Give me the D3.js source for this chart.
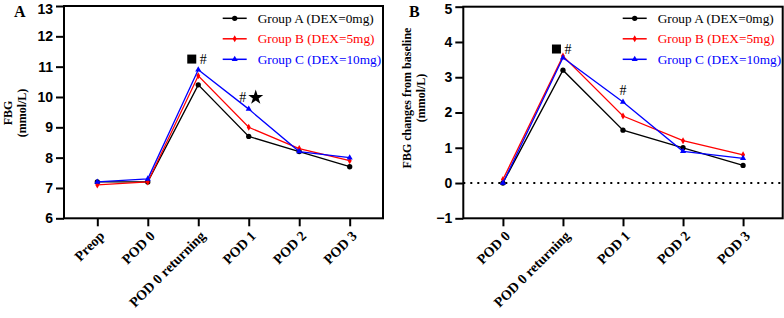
<!DOCTYPE html>
<html><head><meta charset="utf-8">
<script src="https://cdn.jsdelivr.net/npm/d3@7"></script>
<style>
html,body{margin:0;padding:0;background:#fff;}
svg{display:block;}
</style></head>
<body>
<svg id="c" width="784" height="318"></svg>
<script>
// ---------- data ----------
const catsA = ["Preop", "POD 0", "POD 0 returning", "POD 1", "POD 2", "POD 3"];
const fbgGroupA = [7.2, 7.2, 10.4, 8.7, 8.2, 7.7];
const fbgGroupB = [7.1, 7.2, 10.7, 9.0, 8.3, 7.9];
const fbgGroupC = [7.2, 7.3, 10.9, 9.6, 8.2, 8.0];
const ticksA = [6, 7, 8, 9, 10, 11, 12, 13];

const catsB = ["POD 0", "POD 0 returning", "POD 1", "POD 2", "POD 3"];
const chgGroupA = [0.0, 3.2, 1.5, 1.0, 0.5];
const chgGroupB = [0.1, 3.6, 1.9, 1.2, 0.8];
const chgGroupC = [0.0, 3.55, 2.3, 0.9, 0.7];
const ticksB = [-1, 0, 1, 2, 3, 4, 5];

const seriesNames = ["Group A (DEX=0mg)", "Group B (DEX=5mg)", "Group C (DEX=10mg)"];
const seriesColors = ["#000000", "#ff0000", "#0000ff"];
const seriesShapes = ["circle", "diamond", "triangle"];

// annotations: [category, value, symbol]
const annotA = [["POD 0 returning", 11.25, "square"], ["POD 0 returning", 11.25, "#"],
                ["POD 1", 10.0, "#"], ["POD 1", 10.0, "star"]];
const annotB = [["POD 0 returning", 3.8, "square"], ["POD 0 returning", 3.8, "#"],
                ["POD 1", 2.64, "#"]];

const svg = d3.select("#c");
const serif = "'Liberation Serif','Times New Roman',serif";
const sans = "'Liberation Sans',Arial,sans-serif";

function drawPanel(o) {
  const g = svg.append("g");
  const x = d3.scalePoint().domain(o.cats).range([o.x0, o.x1]).padding(0.66);
  const y = d3.scaleLinear().domain(o.domain).range([o.yb, o.yt]);

  // frame
  g.append("rect").attr("x", o.x0).attr("y", o.yt).attr("width", o.x1 - o.x0).attr("height", o.yb - o.yt)
    .attr("fill", "none").attr("stroke", "#000").attr("stroke-width", 2);

  // y axis
  const ya = g.append("g").attr("transform", `translate(${o.x0},0)`)
    .call(d3.axisLeft(y).tickValues(o.ticks).tickSize(8).tickPadding(3).tickFormat(d3.format("d")));
  ya.select(".domain").remove();
  ya.selectAll("line").attr("stroke", "#000").attr("stroke-width", 2);
  ya.selectAll("text").attr("font-family", sans).attr("font-weight", "bold").attr("font-size", 14).attr("fill", "#000");
  ya.selectAll("text").filter(d => d === o.domain[1]).attr("dy", "0.5em");

  // x axis
  const xa = g.append("g").attr("transform", `translate(0,${o.yb})`)
    .call(d3.axisBottom(x).tickSize(8).tickSizeOuter(0));
  xa.select(".domain").remove();
  xa.selectAll("line").attr("stroke", "#000").attr("stroke-width", 2);
  xa.selectAll("text").attr("font-family", serif).attr("font-weight", "bold").attr("font-size", 14)
    .attr("fill", "#000").attr("text-anchor", "end")
    .attr("transform", "translate(4,15) rotate(-45)").attr("dy", "0.35em").attr("y", 0).attr("x", 0);

  // zero line
  if (o.zero) {
    g.append("line").attr("x1", o.x0).attr("x2", o.x1).attr("y1", y(0)).attr("y2", y(0))
      .attr("stroke", "#000").attr("stroke-width", 2).attr("stroke-dasharray", "2,5");
  }

  // series
  const line = d3.line().x(d => x(d[0])).y(d => y(d[1]));
  o.series.forEach((vals, i) => {
    const pts = o.cats.map((c, j) => [c, vals[j]]);
    g.append("path").datum(pts).attr("d", line).attr("fill", "none")
      .attr("stroke", seriesColors[i]).attr("stroke-width", 1.3);
    pts.forEach(p => drawMarker(g, x(p[0]), y(p[1]), i));
  });

  // legend
  seriesNames.forEach((name, i) => {
    const ly = o.legY + i * 20.5;
    g.append("line").attr("x1", o.legX).attr("x2", o.legX + 24).attr("y1", ly).attr("y2", ly)
      .attr("stroke", seriesColors[i]).attr("stroke-width", 1.5);
    drawMarker(g, o.legX + 12, ly, i);
    g.append("text").attr("x", o.legX + 35).attr("y", ly).attr("dy", "0.35em")
      .attr("font-family", serif).attr("font-size", 13.3).attr("fill", seriesColors[i]).text(name);
  });

  // annotations
  o.annot.forEach(a => {
    const cx = x(a[0]), cy = y(a[1]);
    if (a[2] === "square") {
      g.append("rect").attr("x", cx - 11).attr("y", cy - 4.5).attr("width", 9).attr("height", 9).attr("fill", "#000");
    } else if (a[2] === "#") {
      const dx = a[0] === "POD 1" && o.hashLeft ? -6 : (a[0] === "POD 1" ? 0 : 5);
      g.append("text").attr("x", cx + dx).attr("y", cy).attr("dy", "0.35em").attr("text-anchor", "middle")
        .attr("font-family", serif).attr("font-size", 14).attr("fill", "#000").text("#");
    } else if (a[2] === "star") {
      const star = d3.symbol().type(d3.symbolStar).size(70);
      g.append("path").attr("d", star()).attr("transform", `translate(${cx + 7},${cy + 0.5})`).attr("fill", "#000");
    }
  });

  // y title
  const t = g.append("text").attr("transform", `translate(${o.titleX},${o.titleY}) rotate(-90)`)
    .attr("text-anchor", "middle").attr("font-family", serif).attr("font-weight", "bold")
    .attr("font-size", 12).attr("fill", "#000");
  t.append("tspan").attr("x", 0).attr("dy", 0).text(o.title[0]);
  t.append("tspan").attr("x", 0).attr("dy", "1.15em").text(o.title[1]);

  // panel letter
  g.append("text").attr("x", o.letterX).attr("y", 17).attr("font-family", serif).attr("font-weight", "bold")
    .attr("font-size", 16).attr("fill", "#000").text(o.letter);
}

function drawMarker(g, cx, cy, i) {
  const shape = seriesShapes[i];
  let sym;
  if (shape === "circle") sym = d3.symbol().type(d3.symbolCircle).size(22);
  else if (shape === "diamond") sym = d3.symbol().type(d3.symbolDiamond).size(14);
  else sym = d3.symbol().type(d3.symbolTriangle).size(16);
  g.append("path").attr("d", sym()).attr("transform", `translate(${cx},${cy})`).attr("fill", seriesColors[i]);
}

drawPanel({
  cats: catsA, series: [fbgGroupA, fbgGroupB, fbgGroupC], domain: [6, 13], ticks: ticksA,
  x0: 64, x1: 383, yt: 6, yb: 218.3, zero: false, legX: 222.7, legY: 18.3,
  annot: annotA, hashLeft: true, title: ["FBG", "(mmol/L)"], titleX: 12, titleY: 113,
  letter: "A", letterX: 14
});
drawPanel({
  cats: catsB, series: [chgGroupA, chgGroupB, chgGroupC], domain: [-1, 5], ticks: ticksB,
  x0: 463.3, x1: 782.7, yt: 6.7, yb: 218.3, zero: true, legX: 622.7, legY: 18.3,
  annot: annotB, hashLeft: false, title: ["FBG changes from baseline", "(mmol/L)"], titleX: 411, titleY: 98,
  letter: "B", letterX: 409
});
</script>
</body></html>
